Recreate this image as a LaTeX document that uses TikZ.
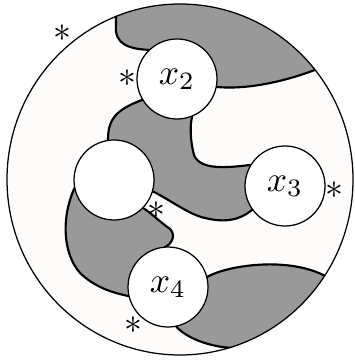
\documentclass[tikz,border=0pt]{standalone}
\definecolor{offwhite}{RGB}{253,252,250}
\definecolor{shade}{RGB}{153,153,153}
\tikzset{
  hole/.style={circle, draw=black, line width=0.35pt, fill=white, minimum size=22.4pt, inner sep=0pt},
  region/.style={fill=shade, draw=black, line width=0.6pt},
  starmark/.style={inner sep=0pt},
  rim/.style={draw=black, line width=0.35pt}
}
\begin{document}
\begin{tikzpicture}[x=0.28pt,y=-0.28pt]
\useasboundingbox (0,0) rectangle (354,360);
\fill[offwhite] (180,179.5) ellipse [x radius=173, y radius=175.5];
\begin{scope}
\clip (180,179.5) ellipse [x radius=173, y radius=175.5];
% top region
\path[region] (116,0) -- (116,25) .. controls (114,45) and (130,49) .. (150,50)
  -- (177,79) -- (217,87) .. controls (250,90) and (290,80) .. (320,68)
  -- (360,50) -- (360,0) -- cycle;
% middle region
\path[region] (142,100) .. controls (115,110) and (108,120) .. (108,140)
  -- (114,180) -- (154,192) .. controls (170,200) and (190,215) .. (205,218)
  .. controls (225,223) and (240,220) .. (252,210) -- (285,186) -- (250,165)
  .. controls (225,168) and (200,170) .. (194,155)
  .. controls (190,140) and (190,125) .. (192,117) -- (177,79) -- cycle;
% lower-left region
\path[region] (76,185) .. controls (63,210) and (60,250) .. (80,273)
  .. controls (95,287) and (110,292) .. (128,296) -- (168,287) -- (165,247)
  .. controls (172,244) and (176,235) .. (170,229)
  .. controls (160,222) and (150,212) .. (143,208) -- (114,180) -- cycle;
% lower-right region
\path[region] (207,277) .. controls (228,265) and (290,256) .. (327,277)
  -- (370,300) -- (240,375) -- (233,348)
  .. controls (210,347) and (185,338) .. (175,325) -- (168,287) -- cycle;
\end{scope}
\path[rim] (180,179.5) ellipse [x radius=173, y radius=175.5];
\node[hole] (x2) at (177,79) {$x_2$};
\node[hole] (x1) at (114,180) {};
\node[hole] (x3) at (285,186) {$x_3$};
\node[hole] (x4) at (168,287) {$x_4$};
\node[starmark] (s1) at (62,33) {$\ast$};
\node[starmark] (s2) at (127,78) {$\ast$};
\node[starmark] (s3) at (156,210) {$\ast$};
\node[starmark] (s4) at (334,190) {$\ast$};
\node[starmark] (s5) at (133,325) {$\ast$};
\end{tikzpicture}
\end{document}
